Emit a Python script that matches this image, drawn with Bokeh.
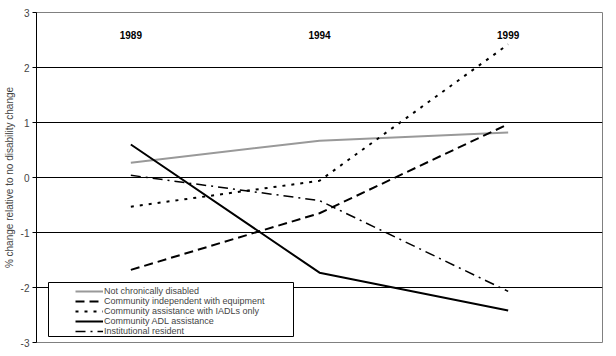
from bokeh.plotting import figure
from bokeh.models import Legend, LegendItem, FixedTicker, BoxAnnotation, FactorRange, Range1d
from bokeh.core.properties import value
from bokeh.embed import file_html
from bokeh.resources import INLINE

years = ["1989", "1994", "1999"]
not_disabled = [0.27, 0.67, 0.82]
indep_equipment = [-1.68, -0.65, 0.97]
iadl_only = [-0.53, -0.06, 2.42]
adl_assist = [0.60, -1.73, -2.42]
institutional = [0.04, -0.42, -2.07]
series_names = [
    "Not chronically disabled",
    "Community independent with equipment",
    "Community assistance with IADLs only",
    "Community ADL assistance",
    "Institutional resident",
]
y_ticks = [-3, -2, -1, 0, 1, 2, 3]
year_label_y = 2.6

FONT = "Liberation Sans"

p = figure(
    x_range=FactorRange(*years, range_padding=0),
    y_range=Range1d(y_ticks[0], y_ticks[-1]),
    frame_width=566, frame_height=330,
    min_border_left=30, min_border_top=12, min_border_right=4, min_border_bottom=8,
    output_backend="svg", toolbar_location=None,
    background_fill_color="white", border_fill_color="white",
)

p.xaxis.visible = False
p.xgrid.visible = False
p.ygrid.ticker = FixedTicker(ticks=y_ticks[1:-1])
p.ygrid.grid_line_color = "black"
p.ygrid.grid_line_width = 1
p.outline_line_color = "#808080"

ax = p.yaxis[0]
ax.ticker = FixedTicker(ticks=y_ticks)
ax.major_label_overrides = {t: str(t) for t in y_ticks}
ax.axis_line_color = "black"
ax.major_tick_line_color = "black"
ax.major_tick_out = 4
ax.major_tick_in = 0
ax.minor_tick_line_color = None
ax.major_label_text_font = FONT
ax.major_label_text_font_size = "10px"
ax.major_label_standoff = 3
ax.axis_label = "% change relative to no disability change"
ax.axis_label_text_font = FONT
ax.axis_label_text_font_size = "10px"
ax.axis_label_text_font_style = "normal"
ax.axis_label_standoff = 3

r1 = p.line(years, not_disabled, line_color="#999999", line_width=2)
r2 = p.line(years, indep_equipment, line_color="black", line_width=2, line_dash="9 5")
r3 = p.line(years, iadl_only, line_color="black", line_width=2, line_dash="3 6")
r4 = p.line(years, adl_assist, line_color="black", line_width=2)
r5 = p.line(years, institutional, line_color="black", line_width=1.5, line_dash="10 5 2 5")

p.text(x=years, y=[year_label_y] * len(years), text=years,
       text_font=value(FONT), text_font_style="bold", text_font_size="10px",
       text_align="center", text_baseline="middle", text_color="black")

box = BoxAnnotation(left=12, right=257, top=60, bottom=6,
                    left_units="screen", right_units="screen",
                    top_units="screen", bottom_units="screen",
                    fill_color="white", fill_alpha=1,
                    line_color="black", line_width=1, line_alpha=1)
p.add_layout(box)

legend = Legend(
    items=[LegendItem(label=n, renderers=[r]) for n, r in zip(series_names, [r1, r2, r3, r4, r5])],
    location=(39, 6), padding=0, spacing=0, margin=0,
    label_height=10, glyph_height=10, glyph_width=28, label_standoff=1,
    border_line_alpha=0, background_fill_alpha=0,
    label_text_font=FONT, label_text_font_size="9px",
)
p.add_layout(legend)

open("out.html", "w").write(file_html(p, INLINE))
